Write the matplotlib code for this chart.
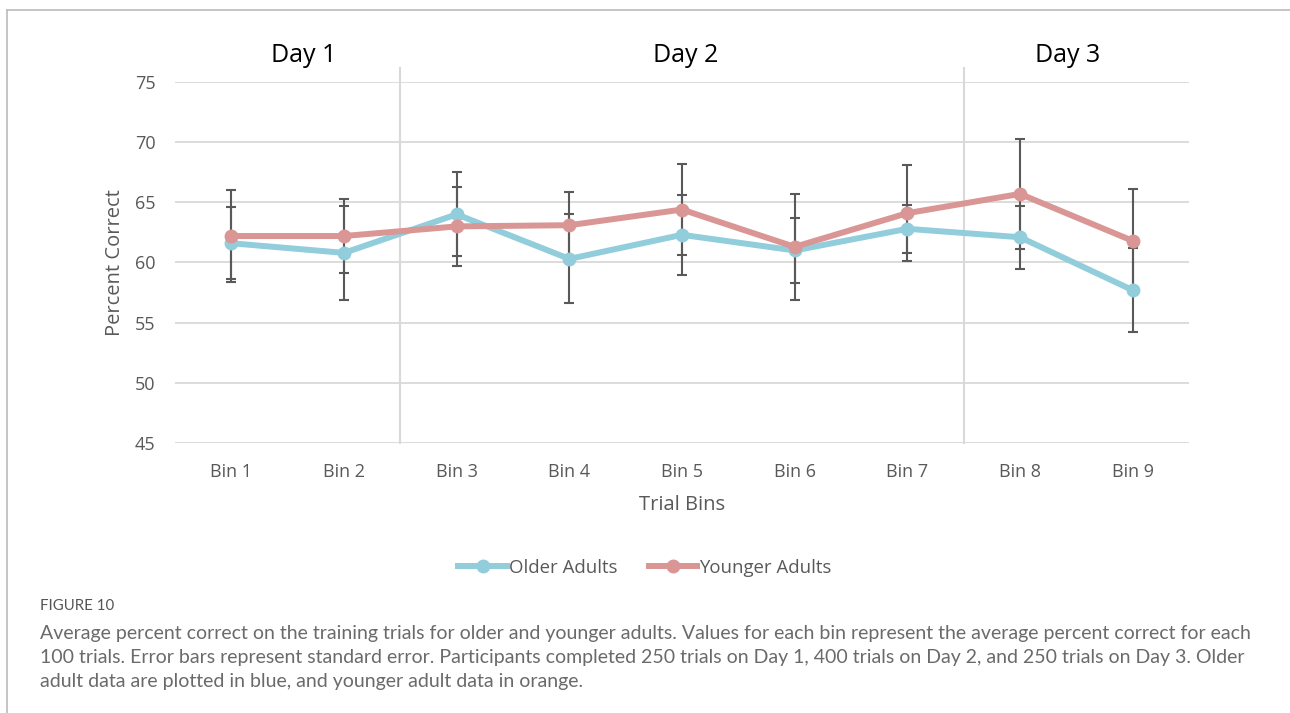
import matplotlib
matplotlib.use("Agg")
import matplotlib.pyplot as plt
from matplotlib.lines import Line2D
import numpy as np

# data
bins = ["Bin 1", "Bin 2", "Bin 3", "Bin 4", "Bin 5", "Bin 6", "Bin 7", "Bin 8", "Bin 9"]
older = [61.6, 60.8, 64.0, 60.3, 62.3, 61.0, 62.8, 62.1, 57.7]
older_se = [3.0, 3.9, 3.5, 3.7, 3.3, 2.7, 2.0, 2.6, 3.5]
younger = [62.2, 62.2, 63.0, 63.1, 64.4, 61.3, 64.1, 65.7, 61.8]
younger_se = [3.8, 3.1, 3.3, 2.8, 3.8, 4.4, 4.0, 4.6, 4.3]
days = ["Day 1", "Day 2", "Day 3"]
day_label_x = [1.64, 5.03, 8.42]
day_breaks = [2.5, 7.5]

caption_head = "FIGURE 10"
caption = ("Average percent correct on the training trials for older and younger adults. Values for each bin represent the average percent correct for each\n"
           "100 trials. Error bars represent standard error. Participants completed 250 trials on Day 1, 400 trials on Day 2, and 250 trials on Day 3. Older\n"
           "adult data are plotted in blue, and younger adult data in orange.")

c_old = "#92CDDC"
c_young = "#D99694"
c_err = "#595959"
c_grid = "#D9D9D9"
c_txt = "#595959"
chart_font = ["Open Sans", "DejaVu Sans"]

fig = plt.figure(figsize=(12.9, 7.13), dpi=100)
ax = fig.add_axes([175 / 1290, 1 - 443 / 713, (1189 - 175) / 1290, (443 - 82) / 713])

x = np.arange(1, len(bins) + 1)

ax.errorbar(x, older, yerr=older_se, fmt="none", ecolor=c_err, elinewidth=1.5,
            capsize=3.8, capthick=1.5, zorder=3)
ax.errorbar(x, younger, yerr=younger_se, fmt="none", ecolor=c_err, elinewidth=1.5,
            capsize=3.8, capthick=1.5, zorder=3)
ax.plot(x, older, color=c_old, lw=4.3, marker="o", ms=9, zorder=4,
        solid_capstyle="round", solid_joinstyle="round")
ax.plot(x, younger, color=c_young, lw=4.3, marker="o", ms=9, zorder=5,
        solid_capstyle="round", solid_joinstyle="round")

for xb in day_breaks:
    ax.plot([xb, xb], [45, 76.2], color=c_grid, lw=1.5, clip_on=False, zorder=1)
for lab, xd in zip(days, day_label_x):
    ax.text(xd, 77.2, lab, ha="center", va="center", fontsize=18,
            family=chart_font, color="black")

ax.set_xlim(0.5, len(bins) + 0.5)
ax.set_ylim(45, 75)
ax.set_yticks(np.arange(45, 76, 5))
ax.set_xticks(x)
ax.set_xticklabels(bins)
ax.yaxis.grid(True, color=c_grid, lw=1.3)
ax.set_axisbelow(True)
for s in ax.spines.values():
    s.set_visible(False)
ax.tick_params(length=0, labelsize=13, labelcolor=c_txt)
ax.tick_params(axis="x", pad=14.5)
ax.tick_params(axis="y", pad=14)
for t in ax.get_xticklabels() + ax.get_yticklabels():
    t.set_family(chart_font)

ax.set_xlabel("Trial Bins", fontsize=14.5, color=c_txt, family=chart_font, labelpad=10)
ax.set_ylabel("Percent Correct", fontsize=14.5, color=c_txt, family=chart_font, labelpad=7)

handles = [Line2D([], [], color=c_old, lw=4.3, marker="o", ms=9),
           Line2D([], [], color=c_young, lw=4.3, marker="o", ms=9)]
fig.legend(handles, ["Older Adults", "Younger Adults"], loc="center",
           bbox_to_anchor=(645 / 1290, 1 - 568 / 713), ncol=2, frameon=False,
           handlelength=2.6, handletextpad=0.1, columnspacing=1.7,
           prop={"family": chart_font, "size": 13.4}, labelcolor=c_txt)

# outer frame (top and left edges only)
fig.add_artist(Line2D([7 / 1290, 1], [1 - 10 / 713] * 2, color="#BBBBBB", lw=1.2,
                      transform=fig.transFigure))
fig.add_artist(Line2D([7 / 1290] * 2, [0, 1 - 10 / 713], color="#BBBBBB", lw=1.2,
                      transform=fig.transFigure))

fig.text(40 / 1290, 1 - 606 / 713, caption_head, fontsize=10.8, color="#555555",
         family=["Lato", "DejaVu Sans"], ha="left", va="center")
fig.text(40 / 1290, 1 - 625 / 713, caption, fontsize=14.0, color="#6A6A6A",
         family=["Lato", "DejaVu Sans"], ha="left", va="top", linespacing=1.5)

fig.savefig("out.png", dpi=100, facecolor="white")
